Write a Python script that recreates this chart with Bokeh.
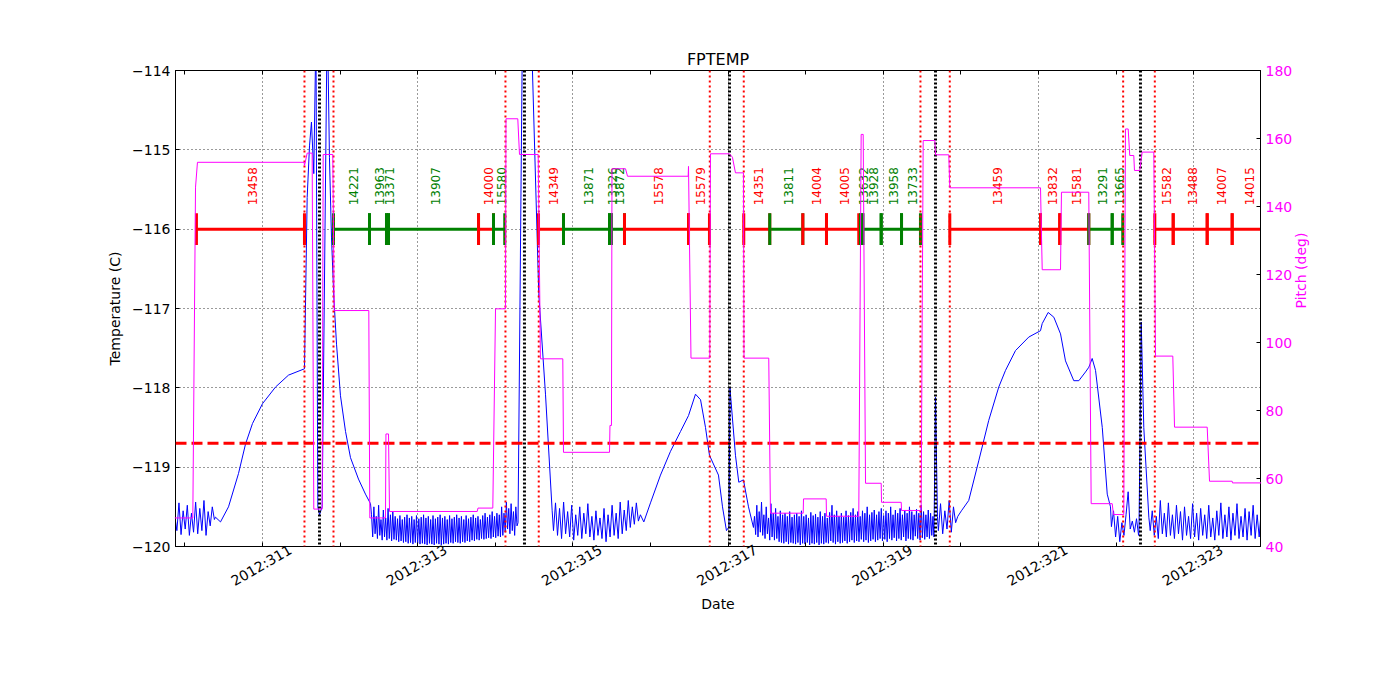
import math
import numpy as np
from bokeh.plotting import figure
from bokeh.models import Range1d, LinearAxis, FixedTicker, Span
from bokeh.embed import file_html
from bokeh.resources import INLINE
from bokeh.core.properties import value

FONT = "DejaVu Sans"

# ---------------- axis data ----------------
day_min, day_max = 309.879, 323.861          # day-of-year 2012
odd_days = [311, 313, 315, 317, 319, 321, 323]
all_days = list(range(310, 324))
date_labels = [f"2012:{d}" for d in odd_days]
temp_ticks = [-120, -119, -118, -117, -116, -115, -114]
pitch_ticks = [40, 60, 80, 100, 120, 140, 160, 180]
planning_limit = -118.7

# radiation zone boundaries (red) and perigee times (black)
rad_days = [311.541, 311.915, 314.131, 314.560, 316.764, 317.202,
            319.479, 319.857, 322.091, 322.499]
perigee_days = [311.735, 314.376, 317.018, 319.673, 322.314]

# ---------------- observations ----------------
obs_id = ["13458", "14221", "13963", "13371", "13907", "14000", "15580",
          "14349", "13871", "13326", "13872", "15578", "15579",
          "14351", "13811", "14004", "14005", "13632", "13928", "13958", "13733",
          "13459", "13832", "15581", "13291", "13665",
          "15582", "13488", "14007", "14015"]
obs_start = [310.149, 311.915, 312.379, 312.598, 312.624, 313.784, 313.977,
             314.557, 314.879, 315.472, 315.497, 315.665, 316.490,
             317.202, 317.537, 317.963, 318.268, 318.706, 318.736, 318.973, 319.235,
             319.857, 321.026, 321.274, 321.648, 321.950,
             322.499, 322.736, 323.174, 323.496]
obs_stop = [311.541, 312.379, 312.598, 312.624, 313.784, 313.977, 314.122,
            314.879, 315.472, 315.497, 315.665, 316.490, 316.760,
            317.537, 317.963, 318.268, 318.684, 318.736, 318.973, 319.235, 319.479,
            321.026, 321.274, 321.648, 321.950, 322.086,
            322.736, 323.174, 323.496, 323.887]
obs_kind = ["A", "B", "B", "B", "B", "A", "B",
            "A", "B", "B", "B", "A", "A",
            "A", "B", "A", "A", "B", "B", "B", "B",
            "A", "A", "A", "B", "B",
            "A", "A", "A", "A"]

# ---------------- pitch (deg) ----------------
pitch_day = [309.870, 310.102, 310.137, 310.162, 311.537, 311.541, 311.576, 311.640,
             311.661, 311.769, 311.782, 311.906, 311.924, 312.370, 312.383, 312.585,
             312.591, 312.624, 312.637, 313.767, 313.777, 313.968, 314.003, 314.131,
             314.138, 314.290, 314.312, 314.553, 314.582, 314.870, 314.879, 315.472,
             315.478, 315.497, 315.504, 315.678, 315.704, 316.486, 316.490, 316.522,
             316.764, 316.773, 317.018, 317.056, 317.095, 317.198, 317.205, 317.524,
             317.546, 317.968, 317.972, 318.264, 318.268, 318.684, 318.715, 318.741,
             318.771, 318.973, 318.977, 319.231, 319.235, 319.488, 319.514, 319.664,
             319.673, 319.844, 319.857, 321.026, 321.048, 321.284, 321.296, 321.648,
             321.679, 321.950, 321.966, 322.099, 322.121, 322.156, 322.176, 322.228,
             322.237, 322.305, 322.336, 322.486, 322.508, 322.731, 322.753, 323.174,
             323.204, 323.496, 323.500, 323.870]
pitch_deg = [48.4, 48.4, 145.7, 153.0, 153.0, 152.0, 155.7, 155.7,
             51.0, 51.0, 155.3, 155.3, 109.4, 109.4, 48.4, 48.4,
             73.1, 73.1, 50.3, 50.3, 51.3, 51.3, 109.9, 109.9,
             165.8, 165.8, 155.3, 155.3, 95.2, 95.2, 67.7, 67.7,
             75.6, 75.6, 151.1, 151.1, 148.9, 148.9, 151.8, 95.4,
             95.4, 155.5, 155.5, 154.5, 149.9, 149.9, 95.4, 95.4,
             49.8, 49.8, 54.0, 54.0, 48.9, 48.9, 161.2, 161.2,
             58.6, 58.6, 53.0, 53.0, 50.6, 50.6, 159.4, 159.4,
             155.2, 155.2, 145.5, 145.5, 121.4, 121.4, 144.2, 144.2,
             52.6, 52.6, 49.4, 49.4, 162.8, 162.8, 155.0, 155.0,
             150.6, 150.6, 156.0, 156.0, 96.0, 96.0, 75.1, 75.1,
             59.2, 59.2, 58.7, 58.7]

# ---------------- FPTEMP (C) ----------------
# regularly sampled noisy stretches: (first day, last day, values)
noise1_span = (309.870, 310.380)
noise1 = [-119.62, -119.80, -119.45, -119.85, -119.55, -119.78, -119.48, -119.86, -119.58, -119.82,
          -119.44, -119.84, -119.52, -119.80, -119.42, -119.86, -119.56, -119.74, -119.50, -119.66]

warm1_day = [310.394, 310.459, 310.562, 310.691, 310.781, 310.871, 311.000, 311.168, 311.335, 311.541,
             311.576, 311.606, 311.631, 311.661, 311.689, 311.713, 311.735, 311.769, 311.831, 311.845,
             311.863, 311.889, 311.919, 311.954, 312.005, 312.070, 312.134, 312.237, 312.327, 312.392]
warm1_temp = [-119.63, -119.69, -119.50, -119.08, -118.71, -118.45, -118.20, -117.99, -117.84, -117.76,
              -115.60, -114.95, -114.65, -115.30, -113.50, -119.50, -119.60, -119.50, -113.60, -113.90,
              -115.10, -116.10, -116.85, -117.45, -118.10, -118.55, -118.88, -119.15, -119.34, -119.46]

noise2_span = (312.405, 314.280)
noise2 = [-119.60, -119.88, -119.50, -119.84, -119.62, -119.90, -119.48, -119.86, -119.66, -119.92,
          -119.54, -119.88, -119.64, -119.92, -119.52, -119.90, -119.60, -119.93, -119.56, -119.91,
          -119.62, -119.92, -119.65, -119.94, -119.61, -119.93, -119.66, -119.95, -119.63, -119.94,
          -119.60, -119.96, -119.64, -119.95, -119.62, -119.97, -119.66, -119.95, -119.61, -119.96,
          -119.65, -119.97, -119.63, -119.96, -119.60, -119.97, -119.64, -119.98, -119.62, -119.96,
          -119.66, -119.97, -119.61, -119.98, -119.65, -119.96, -119.63, -119.97, -119.60, -119.98,
          -119.64, -119.97, -119.62, -119.96, -119.66, -119.97, -119.61, -119.95, -119.65, -119.96,
          -119.63, -119.94, -119.60, -119.95, -119.64, -119.96, -119.62, -119.94, -119.66, -119.95,
          -119.61, -119.93, -119.65, -119.94, -119.63, -119.92, -119.60, -119.93, -119.64, -119.91,
          -119.62, -119.92, -119.66, -119.90, -119.61, -119.91, -119.58, -119.90, -119.63, -119.89,
          -119.60, -119.90, -119.56, -119.88, -119.62, -119.89, -119.58, -119.87, -119.60, -119.88,
          -119.50, -119.86, -119.58, -119.82, -119.44, -119.78, -119.52, -119.84, -119.46, -119.80,
          -119.56, -119.86, -119.50, -119.74]

warm2_day = [314.293, 314.347, 314.402, 314.476, 314.560, 314.647, 314.733]
warm2_temp = [-119.70, -113.80, -113.00, -113.90, -116.81, -118.08, -119.55]

noise3_span = (314.750, 315.870)
noise3 = [-119.80, -119.45, -119.86, -119.52, -119.90, -119.44, -119.84, -119.56, -119.88, -119.48,
          -119.92, -119.60, -119.86, -119.50, -119.90, -119.58, -119.84, -119.46, -119.88, -119.62,
          -119.92, -119.55, -119.86, -119.64, -119.90, -119.52, -119.94, -119.60, -119.88, -119.48,
          -119.86, -119.58, -119.90, -119.44, -119.84, -119.54, -119.80, -119.42, -119.76, -119.50,
          -119.72, -119.45, -119.68, -119.60]

warm3_day = [315.914, 316.000, 316.129, 316.258, 316.387, 316.490, 316.580, 316.645, 316.709, 316.760,
             316.876, 316.928, 316.979, 317.012, 317.024, 317.095, 317.138, 317.198, 317.263, 317.327]
warm3_temp = [-119.69, -119.45, -119.10, -118.80, -118.55, -118.35, -118.08, -118.15, -118.50, -118.85,
              -119.10, -119.50, -119.80, -119.75, -118.00, -118.85, -119.19, -119.16, -119.50, -119.76]

noise4_span = (317.340, 319.640)
noise4 = [-119.62, -119.85, -119.48, -119.88, -119.56, -119.82, -119.44, -119.86, -119.60, -119.90,
          -119.50, -119.84, -119.64, -119.92, -119.46, -119.88, -119.58, -119.92, -119.52, -119.90,
          -119.62, -119.94, -119.55,
          -119.95, -119.60, -119.96, -119.58, -119.94, -119.62, -119.97, -119.56, -119.95, -119.63,
          -119.96, -119.60, -119.97, -119.58, -119.95, -119.62, -119.98, -119.55, -119.96, -119.62,
          -119.97, -119.60, -119.95, -119.64, -119.98, -119.57, -119.96, -119.61, -119.97, -119.59,
          -119.95, -119.63, -119.98, -119.56, -119.96, -119.62, -119.97, -119.58, -119.95, -119.64,
          -119.96, -119.57, -119.93, -119.48, -119.95, -119.60, -119.97, -119.55, -119.94, -119.62,
          -119.96, -119.58, -119.95, -119.63, -119.93, -119.55, -119.96, -119.61, -119.94, -119.57,
          -119.92, -119.52, -119.95, -119.60, -119.93, -119.56, -119.94, -119.62, -119.91, -119.55,
          -119.94, -119.58, -119.92, -119.50, -119.95, -119.60, -119.93, -119.57, -119.91, -119.54,
          -119.94, -119.60, -119.92, -119.56, -119.90, -119.52, -119.93, -119.61, -119.91, -119.55,
          -119.94, -119.58, -119.90, -119.50, -119.92, -119.60, -119.89, -119.54, -119.93, -119.58,
          -119.90, -119.52, -119.92, -119.60, -119.88, -119.55, -119.93, -119.58, -119.90, -119.50,
          -119.91, -119.56, -119.92, -119.60, -119.87, -119.53, -119.90, -119.58, -119.92, -119.48,
          -119.89, -119.56, -119.91, -119.60, -119.88, -119.54, -119.90, -119.58, -119.86, -119.62]

spike1_day = [319.653, 319.673, 319.698]
spike1_temp = [-119.88, -118.12, -119.62]

noise5_span = (319.710, 319.960)
noise5 = [-119.80, -119.46, -119.84, -119.55, -119.78, -119.42, -119.82, -119.50, -119.70, -119.62]

warm5_day = [320.007, 320.101, 320.230, 320.359, 320.488, 320.575, 320.704, 320.875, 321.026, 321.048,
             321.125, 321.198, 321.284, 321.348, 321.455, 321.520, 321.606, 321.649, 321.692, 321.735,
             321.822, 321.886, 321.928]
warm5_temp = [-119.55, -119.42, -118.92, -118.41, -117.99, -117.78, -117.53, -117.36, -117.28, -117.19,
              -117.05, -117.11, -117.32, -117.66, -117.91, -117.91, -117.80, -117.74, -117.63, -117.78,
              -118.50, -119.34, -119.50]

noise6_span = (321.940, 322.290)
noise6 = [-119.75, -119.55, -119.88, -119.62, -119.94, -119.70, -119.86, -119.60, -119.31, -119.78,
          -119.68, -119.82, -119.65, -119.86]

spike2_day = [322.295, 322.324, 322.357, 322.422]
spike2_temp = [-119.82, -117.17, -118.50, -119.63]

noise7_span = (322.440, 323.870)
noise7 = [-119.80, -119.55, -119.86, -119.62, -119.90, -119.42, -119.84, -119.58, -119.88, -119.45,
          -119.86, -119.60, -119.90, -119.48, -119.84, -119.56, -119.92, -119.50, -119.86, -119.62,
          -119.90, -119.46, -119.88, -119.58, -119.92, -119.52, -119.86, -119.60, -119.90, -119.48,
          -119.88, -119.64, -119.92, -119.55, -119.86, -119.45, -119.90, -119.60, -119.88, -119.50,
          -119.92, -119.58, -119.86, -119.46, -119.90, -119.62, -119.88, -119.52, -119.92, -119.56,
          -119.86, -119.48, -119.90, -119.60, -119.88, -119.55]


def sampled(span, vals):
    """telemetry stretch sampled at a regular cadence"""
    return list(np.linspace(span[0], span[1], len(vals))), list(vals)


pieces = [sampled(noise1_span, noise1), (warm1_day, warm1_temp),
          sampled(noise2_span, noise2), (warm2_day, warm2_temp),
          sampled(noise3_span, noise3), (warm3_day, warm3_temp),
          sampled(noise4_span, noise4), (spike1_day, spike1_temp),
          sampled(noise5_span, noise5), (warm5_day, warm5_temp),
          sampled(noise6_span, noise6), (spike2_day, spike2_temp),
          sampled(noise7_span, noise7)]
temp_day, temp_val = [], []
for d, v in pieces:
    temp_day += list(d)
    temp_val += list(v)

# ---------------- figure ----------------
RED, GREEN, BLUE, MAGENTA = "#FF0000", "#008000", "#0000FF", "#FF00FF"
kind_color = {"A": RED, "B": GREEN}

p = figure(frame_width=1085, frame_height=476, output_backend="svg", toolbar_location=None,
           x_range=Range1d(day_min, day_max), y_range=Range1d(temp_ticks[0], temp_ticks[-1]),
           min_border_left=175, min_border_top=70, min_border_right=100, min_border_bottom=100,
           title="FPTEMP")
p.extra_y_ranges = {"pitch": Range1d(pitch_ticks[0], pitch_ticks[-1])}
p.background_fill_color = "white"
p.border_fill_color = "white"
p.outline_line_color = "black"
p.outline_line_width = 1

p.title.text_font = FONT
p.title.text_font_size = "16px"
p.title.text_font_style = "normal"
p.title.align = "center"
p.title.text_color = "black"
p.title.standoff = 4

# bottom / top spines: a tick every day (label-free minor ticks)
xa = p.xaxis[0]
xa.ticker = FixedTicker(ticks=[], minor_ticks=all_days)
p.xgrid[0].ticker = FixedTicker(ticks=odd_days)

# date labels: matplotlib centres its 30-degree labels on the tick, Bokeh right-aligns
# them at the tick, so the label axis is nudged right by half a label width
label_nudge = 0.36
la = LinearAxis(ticker=FixedTicker(ticks=[d + label_nudge for d in odd_days]),
                major_label_overrides={d + label_nudge: t for d, t in zip(odd_days, date_labels)},
                major_label_orientation=math.pi / 6, axis_label="Date")
p.add_layout(la, "below")

ya = p.yaxis[0]
ya.ticker = FixedTicker(ticks=temp_ticks)
ya.major_label_overrides = {t: f"\u2212{abs(t)}" for t in temp_ticks}
ya.axis_label = "Temperature (C)"

ra = LinearAxis(y_range_name="pitch", ticker=FixedTicker(ticks=pitch_ticks), axis_label="Pitch (deg)")
p.add_layout(ra, "right")
ta = LinearAxis(ticker=FixedTicker(ticks=[], minor_ticks=all_days))
p.add_layout(ta, "above")

for ax in (xa, ya, ra, ta, la):
    ax.major_tick_in = 4
    ax.major_tick_out = 0
    ax.minor_tick_in = 4 if ax in (xa, ta) else 0
    ax.minor_tick_out = 0
    ax.axis_line_color = "black"
    ax.major_tick_line_color = "black"
    ax.minor_tick_line_color = "black"
    ax.major_label_text_font = FONT
    ax.major_label_text_font_size = "14px"
    ax.major_label_text_color = "black"
    ax.axis_label_text_font = FONT
    ax.axis_label_text_font_size = "14px"
    ax.axis_label_text_font_style = "normal"
    ax.axis_label_text_color = "black"
    ax.major_label_standoff = 5
    ax.axis_label_standoff = 6
xa.major_label_standoff = 0
ta.major_label_standoff = 0
la.major_tick_in = 0
la.major_tick_line_color = None
la.axis_line_color = None
la.major_label_standoff = 2
la.axis_label_standoff = -3
ra.major_label_text_color = MAGENTA
ra.axis_label_text_color = MAGENTA
try:
    ra.axis_label_orientation = math.pi / 2
except Exception:
    pass

for g in (p.xgrid[0], p.ygrid[0]):
    g.grid_line_color = "black"
    g.grid_line_width = 0.8
    g.grid_line_dash = "1 3"

# temperature trace
p.line(temp_day, temp_val, line_color=BLUE, line_width=1)

# planning limit
p.add_layout(Span(location=planning_limit, dimension="width", line_color=RED,
                  line_width=3, line_dash="11 5"))

# observation bars
bar_y = -116.0
colors = [kind_color[k] for k in obs_kind]
p.segment(x0=obs_start, y0=[bar_y] * len(obs_id), x1=obs_stop, y1=[bar_y] * len(obs_id),
          line_color=colors, line_width=3)
tick_x, tick_c = [], []
for s, e, c in zip(obs_start, obs_stop, colors):
    tick_x += [s, e]
    tick_c += [c, c]
p.segment(x0=tick_x, y0=[bar_y - 0.2] * len(tick_x), x1=tick_x, y1=[bar_y + 0.2] * len(tick_x),
          line_color=tick_c, line_width=3)
mids = [(s + e) / 2 for s, e in zip(obs_start, obs_stop)]
p.text(x=mids, y=[bar_y + 0.3] * len(mids), text=obs_id, angle=math.pi / 2,
       text_align="left", text_baseline="middle", text_color=colors,
       text_font=value(FONT), text_font_size="12px", x_offset=2)

# radiation zone and perigee markers
for d in rad_days:
    p.add_layout(Span(location=d, dimension="height", line_color=RED, line_width=2, line_dash="2 3"))
for d in perigee_days:
    p.add_layout(Span(location=d, dimension="height", line_color="black", line_width=3, line_dash="2 2"))

# pitch trace
p.line(pitch_day, pitch_deg, y_range_name="pitch", line_color=MAGENTA, line_width=1, level="overlay")

open("out.html", "w").write(file_html(p, INLINE))
